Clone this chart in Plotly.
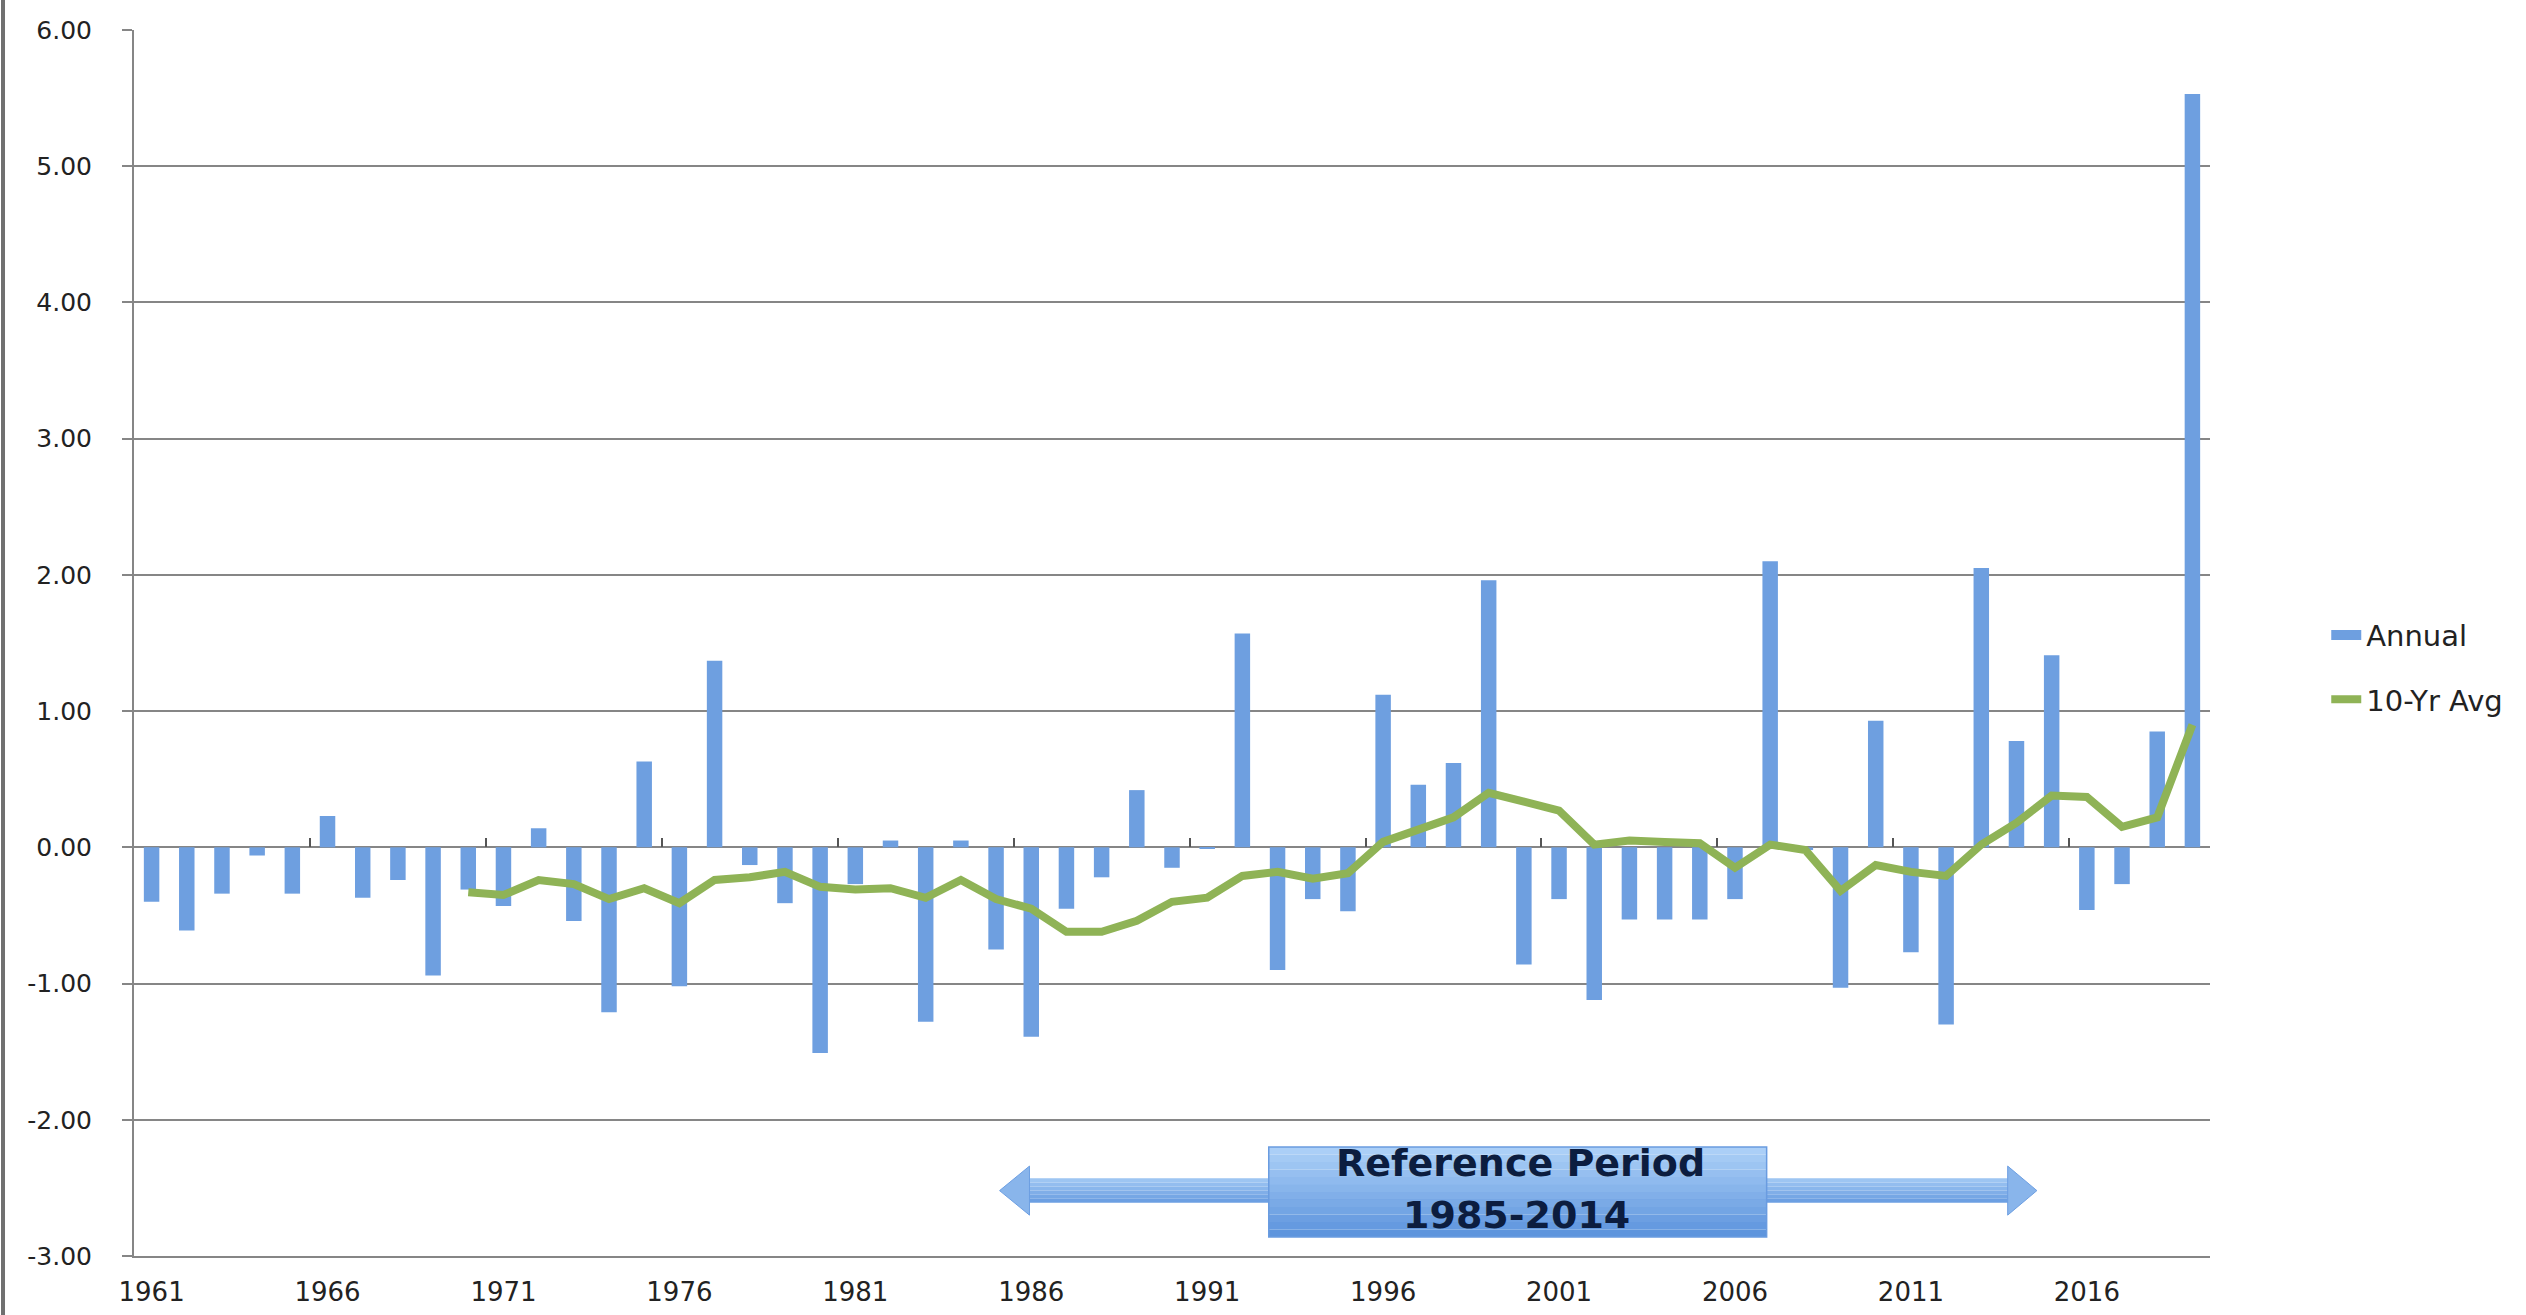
import plotly.graph_objects as go

# ---------------- data ----------------
years = list(range(1961, 2020))
annual = [-0.40, -0.61, -0.34, -0.06, -0.34, 0.23, -0.37, -0.24, -0.94, -0.31,
          -0.43, 0.14, -0.54, -1.21, 0.63, -1.02, 1.37, -0.13, -0.41, -1.51,
          -0.27, 0.05, -1.28, 0.05, -0.75, -1.39, -0.45, -0.22, 0.42, -0.15,
          -0.01, 1.57, -0.90, -0.38, -0.47, 1.12, 0.46, 0.62, 1.96, -0.86,
          -0.38, -1.12, -0.53, -0.53, -0.53, -0.38, 2.10, -0.02, -1.03, 0.93,
          -0.77, -1.30, 2.05, 0.78, 1.41, -0.46, -0.27, 0.85, 5.53]
avg10 = [None] * 9 + [
    -0.33, -0.35, -0.24, -0.27, -0.38, -0.30, -0.41, -0.24, -0.22, -0.18,
    -0.29, -0.31, -0.30, -0.37, -0.24, -0.38, -0.45, -0.62, -0.62, -0.54,
    -0.40, -0.37, -0.21, -0.18, -0.23, -0.19, 0.04, 0.13, 0.22, 0.40,
    0.33, 0.27, 0.02, 0.05, 0.04, 0.03, -0.15, 0.02, -0.02, -0.32,
    -0.13, -0.18, -0.21, 0.02, 0.18, 0.38, 0.37, 0.15, 0.22, 0.90]
xtick_years = list(range(1961, 2020, 5))
xtick_labels = [str(y) for y in xtick_years]
ytick_vals = list(range(-3, 7))
ytick_labels = ["%.2f" % v for v in ytick_vals]
ref_label_1 = "Reference Period"
ref_label_2 = "1985-2014"

# ---------------- style ----------------
GRID = "#868686"
BAR = "#6e9fe0"
GREEN = "#8fb356"
FONT = "DejaVu Sans"

fig = go.Figure()
fig.add_trace(go.Bar(x=years, y=annual, name="Annual", width=0.44,
                     marker=dict(color=BAR, line=dict(width=0)),
                     showlegend=False))
fig.add_trace(go.Scatter(x=years, y=avg10, name="10-Yr Avg", mode="lines",
                         xaxis="x2", yaxis="y",
                         line=dict(color=GREEN, width=8),
                         legend="legend2"))
# legend swatch for the bar series (flat bar-like swatch as in reference)
fig.add_trace(go.Scatter(x=[None], y=[None], name="Annual", mode="lines",
                         line=dict(color=BAR, width=12), legend="legend"))


def lerp(c1, c2, t):
    a = [int(c1[i:i + 2], 16) for i in (1, 3, 5)]
    b = [int(c2[i:i + 2], 16) for i in (1, 3, 5)]
    return "#%02x%02x%02x" % tuple(round(a[k] + (b[k] - a[k]) * t) for k in range(3))


shapes = []
TOP_C, BOT_C = "#afd2f8", "#5a92dc"

# double arrow (decoration)
ax0, ax1 = 1985.10, 2014.58
hx0, hx1 = 1985.95, 2013.75
sy0, sy1 = -2.61, -2.43
hy0, hy1 = -2.70, -2.34
ymid = (sy0 + sy1) / 2
n = 6
for i in range(n):
    y_a = sy1 - (sy1 - sy0) * i / n
    y_b = sy1 - (sy1 - sy0) * (i + 1) / n
    shapes.append(dict(type="rect", xref="x", yref="y", x0=hx0 - 0.02, x1=hx1 + 0.02,
                       y0=y_b, y1=y_a, line=dict(width=0),
                       fillcolor=lerp(TOP_C, BOT_C, 0.15 + 0.7 * (i + 0.5) / n),
                       layer="above"))
for (tip, base) in ((ax0, hx0), (ax1, hx1)):
    shapes.append(dict(type="path", xref="x", yref="y",
                       path="M %f,%f L %f,%f L %f,%f Z" % (tip, ymid, base, hy1, base, hy0),
                       fillcolor=lerp(TOP_C, BOT_C, 0.45),
                       line=dict(color="#6d9fe2", width=1), layer="above"))

# box
bx0, bx1, by0, by1 = 1992.75, 2006.9, -2.86, -2.20
n = 12
for i in range(n):
    y_a = by1 - (by1 - by0) * i / n
    y_b = by1 - (by1 - by0) * (i + 1) / n
    shapes.append(dict(type="rect", xref="x", yref="y", x0=bx0, x1=bx1,
                       y0=y_b, y1=y_a, line=dict(width=0),
                       fillcolor=lerp(TOP_C, BOT_C, (i + 0.5) / n), layer="above"))
shapes.append(dict(type="rect", xref="x", yref="y", x0=bx0, x1=bx1, y0=by0, y1=by1,
                   line=dict(color="#6a9ce0", width=1.5), fillcolor="rgba(0,0,0,0)",
                   layer="above"))

# left frame border line
shapes.append(dict(type="line", xref="paper", yref="paper", x0=-0.0631, x1=-0.0631,
                   y0=-0.06, y1=1.03, line=dict(color="#707070", width=4)))

annotations = [
    dict(x=1999.9, y=-2.316, xref="x", yref="y", text=ref_label_1, showarrow=False,
         font=dict(family=FONT, size=38, color="#0c1d3f", weight="bold")),
    dict(x=1999.8, y=-2.698, xref="x", yref="y", text=ref_label_2, showarrow=False,
         font=dict(family=FONT, size=38, color="#0c1d3f", weight="bold")),
]

fig.update_layout(
    width=2526, height=1315, autosize=False,
    margin=dict(l=134, r=316, t=30, b=59, autoexpand=False),
    paper_bgcolor="white", plot_bgcolor="white",
    barmode="overlay",
    shapes=shapes, annotations=annotations,
    font=dict(family=FONT, color="#222222"),
    legend=dict(x=1.056, y=0.5065, xanchor="left", yanchor="middle",
                font=dict(family=FONT, size=29, color="#222222"),
                bgcolor="rgba(0,0,0,0)", itemwidth=30),
    legend2=dict(x=1.056, y=0.454, xanchor="left", yanchor="middle",
                 font=dict(family=FONT, size=29, color="#222222"),
                 bgcolor="rgba(0,0,0,0)", itemwidth=30),
    xaxis=dict(range=[1960.5, 2019.5], tickmode="array", tickvals=xtick_years,
               ticktext=xtick_labels, showgrid=False, zeroline=False,
               showline=True, linecolor=GRID, linewidth=2, ticks="",
               ticklabelstandoff=12, automargin=False,
               tickfont=dict(family=FONT, size=26, color="#222222")),
    xaxis2=dict(overlaying="x", matches="x", anchor="free", position=1 / 3,
                tickmode="array",
                tickvals=[y - 0.5 for y in xtick_years],
                ticks="inside", ticklen=9, tickwidth=2, tickcolor="#555555",
                showticklabels=False, showgrid=False, zeroline=False, showline=False,
                automargin=False),
    yaxis=dict(range=[-3, 6], tickmode="array", tickvals=ytick_vals,
               ticktext=ytick_labels, showgrid=True, gridcolor=GRID, gridwidth=2,
               zeroline=True, zerolinecolor=GRID, zerolinewidth=2,
               showline=True, linecolor=GRID, linewidth=2,
               ticks="outside", ticklen=10, tickwidth=2, tickcolor=GRID,
               ticklabelstandoff=25, automargin=False,
               tickfont=dict(family=FONT, size=25, color="#222222")),
)

fig.write_html("out.html", config={"displayModeBar": False},
               post_script="document.body.style.margin='0';document.body.style.overflow='hidden';")
